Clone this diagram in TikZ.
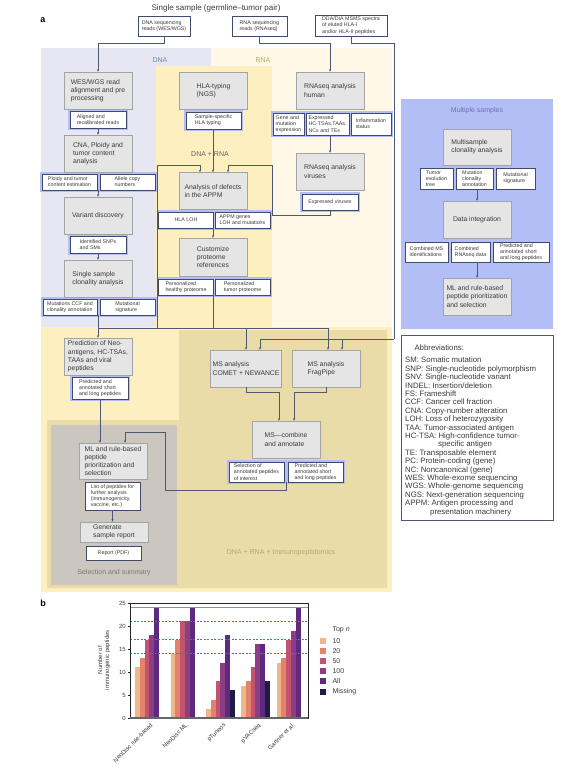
\documentclass[tikz,border=0pt]{standalone}
\usepackage{fontspec}
\setmainfont{Liberation Sans}
\usepackage{tikz}
\usetikzlibrary{arrows.meta,fit,positioning}

\definecolor{dnabg}{HTML}{E7E6F3}
\definecolor{rnabg}{HTML}{FFF8E7}
\definecolor{dnarnabg}{HTML}{FDEFC0}
\definecolor{khaki}{HTML}{E9DCA8}
\definecolor{selgray}{HTML}{CBC6BE}
\definecolor{multibg}{HTML}{B3BDF6}
\definecolor{hlcol}{HTML}{B3BDF6}
\definecolor{procfill}{HTML}{E5E5E5}
\definecolor{procdraw}{HTML}{A3A3A3}
\definecolor{outdraw}{HTML}{3F4A6C}
\definecolor{conncol}{HTML}{4E5873}
\definecolor{txt}{HTML}{3A3A3A}
\definecolor{dnalab}{HTML}{6C8AB3}
\definecolor{rnalab}{HTML}{B8A95E}
\definecolor{immlab}{HTML}{B5A66A}
\definecolor{sellab}{HTML}{7D7873}
\definecolor{multilab}{HTML}{6C70B5}
\definecolor{bar1}{HTML}{EDB78A}
\definecolor{bar2}{HTML}{E4836B}
\definecolor{bar3}{HTML}{C2546F}
\definecolor{bar4}{HTML}{8D3E82}
\definecolor{bar5}{HTML}{5E2A7E}
\definecolor{bar6}{HTML}{1E1B4B}
\definecolor{refred}{HTML}{C47A7C}
\definecolor{refblue}{HTML}{2E7FC6}

\pgfdeclarelayer{regions}
\pgfdeclarelayer{hilite}
\pgfsetlayers{regions,hilite,main}

\begin{document}
\begin{tikzpicture}[x=1pt,y=-1pt,
  proc/.style={draw=procdraw,fill=procfill,line width=0.7pt,minimum width=68pt,minimum height=37pt,align=left,inner sep=2pt,text=txt,font=\fontsize{6.8}{8.2}\selectfont},
  outb/.style={draw=outdraw,fill=white,line width=0.7pt,align=left,inner sep=1.2pt,text=txt,font=\fontsize{5.3}{6.2}\selectfont},
  sz/.style 2 args={minimum width=#1pt,minimum height=#2pt},
  hl/.style={fill=hlcol,inner sep=1.5pt},
  conn/.style={draw=conncol,line width=0.7pt},
  arr/.style={conn,-{Stealth[length=2.4pt,width=2.2pt]}},
  reglabel/.style={font=\fontsize{7}{8}\selectfont},
  chartfont/.style={font=\fontsize{6}{7}\selectfont,text=txt}]
\useasboundingbox (0,0) rectangle (586,782);

% titles and inputs
\node[font=\fontsize{8}{9}\selectfont,text=txt] (title) at (216,8) {Single sample (germline–tumor pair)};
\node[font=\bfseries\fontsize{9}{10}\selectfont] (lbla) at (43,20) {a};
\node[outb,sz={52}{20}] (dnain) at (164,26) {DNA sequencing\\reads (WES/WGS)};
\node[outb,sz={55}{20}] (rnain) at (259.5,26) {RNA sequencing\\reads (RNAseq)};
\node[outb,sz={72}{21}] (msin) at (351,25.5) {DDA/DIA MSMS spectra\\of eluted HLA-I\\and/or HLA-II peptides};

% DNA column
\node[proc] (wesbox) at (98,90.5) {WES/WGS read\\alignment and pre\\processing};
\node[outb,sz={56}{17}] (aligned) at (98,119.5) {Aligned and\\recalibrated reads};
\node[proc] (cnabox) at (98,153.5) {CNA, Ploidy and\\tumor content\\analysis};
\node[outb,sz={55}{16}] (ploidy) at (69.5,182) {Ploidy and tumor\\content estimation};
\node[outb,sz={55}{16}] (allele) at (127.5,182) {Allele copy\\numbers};
\node[proc] (varbox) at (98,215.5) {Variant discovery};
\node[outb,sz={56}{17}] (snps) at (98,244.5) {Identified SNPs\\and SMs};
\node[proc] (clonbox) at (98,278.5) {Single sample\\clonality analysis};
\node[outb,sz={54}{16}] (ccf) at (70,307) {Mutations CCF and\\clonality annotation};
\node[outb,sz={55}{16}] (mutsig) at (127.5,307) {Mutational\\signature};

% DNA + RNA column
\node[proc] (hlabox) at (213.5,90.5) {HLA-typing\\(NGS)};
\node[outb,sz={55}{17}] (hlaout) at (213.5,120.5) {Sample-specific\\HLA typing};
\node[proc] (defects) at (213,191) {Analysis of defects\\in the APPM};
\node[outb,sz={55}{16}] (hlaloh) at (186,220) {HLA LOH};
\node[outb,sz={55}{16}] (appm) at (242.5,220) {APPM genes\\LOH and mutations};
\node[proc,sz={68}{38}] (custbox) at (213,257) {Customize\\proteome\\references};
\node[outb,sz={55}{16}] (healthy) at (186,287) {Personalized\\healthy proteome};
\node[outb,sz={55}{16}] (tumprot) at (242.5,287) {Personalized\\tumor proteome};

% RNA column
\node[proc] (rnahum) at (330,90.5) {RNAseq analysis\\human};
\node[outb,sz={31}{22}] (genexp) at (288.5,124) {Gene and\\mutation\\expression};
\node[outb,sz={43}{22}] (hctsa) at (327.5,124) {Expressed\\HC-TSAs,TAAs,\\NCs and TEs};
\node[outb,sz={40}{22}] (inflam) at (371,124) {Inflammation\\status};
\node[proc] (rnavir) at (330,171.5) {RNAseq analysis\\viruses};
\node[outb,sz={56}{16}] (expvir) at (330,202) {Expressed viruses};

% multiple samples
\node[proc,sz={68}{36}] (multiclon) at (477,147) {Multisample\\clonality analysis};
\node[outb,sz={33}{21}] (tumevo) at (436.5,178.5) {Tumor\\evolution\\tree};
\node[outb,sz={37}{21}] (mutclon) at (474.5,178.5) {Mutation\\clonality\\annotation};
\node[outb,sz={39}{21}] (mutsigm) at (515.5,178.5) {Mutational\\signature};
\node[proc] (dataint) at (477,219.5) {Data integration};
\node[outb,sz={43}{20}] (combms) at (426.5,252) {Combined MS\\identifications};
\node[outb,sz={39}{20}] (combrna) at (470.5,252) {Combined\\RNAseq data};
\node[outb,sz={56}{20}] (predmulti) at (521,252) {Predicted and\\annotated short\\and long peptides};
\node[proc] (mlmulti) at (477,296.5) {ML and rule-based\\peptide prioritization\\and selection};

% lower part
\node[proc] (predbox) at (98,356.5) {Prediction of Neo-\\antigens, HC-TSAs,\\TAAs and viral\\peptides};
\node[outb,sz={56}{22}] (predout) at (100,388) {Predicted and\\annotated short\\and long peptides};
\node[proc,sz={68}{36}] (mlbox) at (113,461) {ML and rule-based\\peptide\\prioritization and\\selection};
\node[outb,sz={55}{28}] (listout) at (112.5,496) {List of peptides for\\further analysis\\(immunogenicity,\\vaccine, etc.)};
\node[proc,sz={68}{20}] (reportbox) at (114,532) {Generate\\sample report};
\node[outb,sz={55}{14}] (pdfout) at (113.5,553) {Report (PDF)};
\node[proc] (comet) at (246,368.5) {MS analysis\\COMET + NEWANCE};
\node[proc] (fragpipe) at (326,368.5) {MS analysis\\FragPipe};
\node[proc] (mscomb) at (286,439.5) {MS—combine\\and annotate};
\node[outb,sz={55}{20}] (selout) at (256.5,472) {Selection of\\annotated peptides\\of interest};
\node[outb,sz={55}{20}] (predms) at (315.5,472) {Predicted and\\annotated short\\and long peptides};

% abbreviations
\node[draw=conncol,line width=0.7pt,fill=white,sz={152}{185},anchor=north west] (abbrbox) at (401,335) {};
\node[anchor=west,text=txt,font=\fontsize{7.8}{9}\selectfont] (abbrhead) at (411,348) {Abbreviations:};
\node[anchor=north west,align=left,text=txt,inner sep=0pt,font=\fontsize{7.8}{8.4}\selectfont] (abbrlist) at (405,357) {SM: Somatic mutation\\SNP: Single-nucleotide polymorphism\\SNV: Single-nucleotide variant\\INDEL: Insertion/deletion\\FS: Frameshift\\CCF: Cancer cell fraction\\CNA: Copy-number alteration\\LOH: Loss of heterozygosity\\TAA: Tumor-associated antigen\\HC-TSA: High-confidence tumor-\\\hspace*{33pt}specific antigen\\TE: Transposable element\\PC: Protein-coding (gene)\\NC: Noncanonical (gene)\\WES: Whole-exome sequencing\\WGS: Whole-genome sequencing\\NGS: Next-generation sequencing\\APPM: Antigen processing and\\\hspace*{25pt}presentation machinery};

% region labels
\node[reglabel,text=dnalab] (dnalbl) at (160,60) {DNA};
\node[reglabel,text=rnalab] (rnalbl) at (263,60) {RNA};
\node[reglabel,text=sellab!80!black] (dnarnalbl) at (210,154) {DNA + RNA};
\node[reglabel,text=multilab] (multilbl) at (477,111) {Multiple samples};
\node[reglabel,text=immlab] (immlbl) at (281,553) {DNA + RNA + Immunopeptidomics};
\node[reglabel,text=sellab] (sellbl) at (114,573) {Selection and summary};

% background regions
\begin{pgfonlayer}{regions}
\fill[dnabg] (41,48) rectangle (211,327);
\fill[rnabg] (211,48) rectangle (392,327);
\fill[dnarnabg] (156,66) rectangle (272,327);
\fill[dnarnabg] (41,327) rectangle (392,592);
\fill[khaki] (179,330) -- (387,330) -- (387,588) -- (47,588) -- (47,420) -- (179,420) -- cycle;
\fill[selgray] (51,425) rectangle (177,585);
\fill[multibg] (401,99) rectangle (553,329);
\end{pgfonlayer}
\begin{pgfonlayer}{hilite}
\node[hl,fit=(aligned)] (hla1) {};
\node[hl,fit=(ploidy)(allele)] (hla2) {};
\node[hl,fit=(snps)] (hla3) {};
\node[hl,fit=(ccf)(mutsig)] (hla4) {};
\node[hl,fit=(hlaout)] (hla5) {};
\node[hl,fit=(hlaloh)(appm)] (hla6) {};
\node[hl,fit=(healthy)(tumprot)] (hla7) {};
\node[hl,fit=(genexp)(inflam)] (hla8) {};
\node[hl,fit=(expvir)] (hla9) {};
\node[hl,fit=(predout)] (hla10) {};
\node[hl,fit=(selout)(predms)] (hla11) {};
\end{pgfonlayer}

% connectors
\coordinate (dnajoin) at (98,328);
\coordinate (msturn) at (394,339);
\coordinate (apin) at (157,165);
\coordinate (virturn) at (272,165);
\coordinate (selturn) at (165,432);
\coordinate (fpdna) at ([xshift=2pt]fragpipe.north);
\coordinate (fpms) at ([xshift=16pt]fragpipe.north);
\draw[arr] (dnain.south) -- ++(0,7) -| (wesbox.north);
\draw[arr] (rnain.south) -- ++(0,7) -| (rnahum.north);
\draw[conn] (msin.south) -- ++(0,7) -| (msturn);
\draw[arr] (msturn) -| ([xshift=14pt]comet.north);
\draw[arr] (msturn -| fpms) -- (fpms);
\draw[arr] (aligned.south) -- (cnabox.north);
\draw[arr] (varbox.north |- allele.south) -- (varbox.north);
\draw[arr] (snps.south) -- (clonbox.north);
\draw[conn] (clonbox.south |- ccf.south) -- (dnajoin);
\draw[arr] (dnajoin) -- (predbox.north);
\draw[conn] (dnajoin) -- (dnajoin -| fpdna);
\draw[arr] (dnajoin -| comet.north) -- (comet.north);
\draw[arr] (dnajoin -| fpdna) -- (fpdna);
\draw[conn] (custbox.south |- healthy.south) -- (custbox.south |- dnajoin);
\draw[arr] (apin |- dnajoin) -- (apin) -| ([xshift=-13pt]defects.north);
\draw[arr] (defects.north |- hlaout.south) -- (defects.north);
\draw[arr] (expvir.south) -- ++(0,5) -| (virturn) -| ([xshift=15pt]defects.north);
\draw[arr] (defects.south |- hlaloh.south) -- (custbox.north);
\draw[arr] (rnavir.north |- hctsa.south) -- (rnavir.north);
\draw[arr] (multiclon.south |- mutclon.south) -- (dataint.north);
\draw[arr] (dataint.south |- combrna.south) -- (mlmulti.north);
\draw[arr] (predout.south) -- (predout.south |- mlbox.north);
\draw[arr] (listout.south) -- (listout.south |- reportbox.north);
\draw[arr] (comet.south) -- ++(0,5) -| ([xshift=-7pt]mscomb.north);
\draw[arr] (fragpipe.south) -- ++(0,5) -| ([xshift=8pt]mscomb.north);
\draw[arr] (mscomb.south |- selout.south) -- ++(0,8) -| (selturn) -| ([xshift=12pt]mlbox.north);

% panel b
\node[font=\bfseries\fontsize{9}{10}\selectfont] (lblb) at (43,603) {b};
\foreach \gx/\vals in {135/{11,13,17,18,24},170.5/{14,17,21,21,24},206/{2,4,8,12,18,6},241/{7,8,11,16,16,8},276.5/{12,13,17,19,24}}{
  \foreach \v [count=\i] in \vals
    \fill[fill=bar\i] ({\gx+(\i-1)*4.8},718) rectangle ++(4.8,{-4.6*\v});
}
\draw[line width=1.6pt,refred] (130,{718-4.6*24}) -- (308,{718-4.6*24});
\foreach \r in {21,17,14}
  \draw[refblue,line width=0.8pt,dash pattern=on 2pt off 1.5pt] (130,{718-4.6*\r}) -- (308,{718-4.6*\r});
\draw[line width=0.8pt,black!85] (130,603) rectangle (308,718);
\draw[line width=1.2pt,black!60] (130,718) -- (308,718);
\foreach \t in {0,5,...,25}{
  \draw[black!85,line width=0.6pt] (130,{718-4.6*\t}) -- ++(-2,0);
  \node[chartfont,anchor=east,inner sep=1pt] (tick\t) at (127,{718-4.6*\t}) {\t};
}
\node[chartfont,rotate=90,align=center] (ylab) at (104,660) {Number of\\immunogenic peptides};
\foreach \gx/\lab [count=\k] in {150/NeoDisc rule-based,185/NeoDisc ML,223/pTuneos,258/pVACseq,292/Gartner et al.}
  \node[chartfont,rotate=45,anchor=north east,inner sep=1pt] (xlab\k) at (\gx,721) {\lab};
\node[chartfont,font=\fontsize{7}{8}\selectfont,anchor=west] (legtitle) at (329,630) {Top \textit{n}};
\foreach \lab [count=\i] in {10,20,50,100,All,Missing}{
  \fill[fill=bar\i] (320,{638+(\i-1)*10.1}) rectangle ++(6,6);
  \node[chartfont,font=\fontsize{7}{8}\selectfont,anchor=west] (leg\i) at (329,{641+(\i-1)*10.1}) {\lab};
}
\end{tikzpicture}
\end{document}
